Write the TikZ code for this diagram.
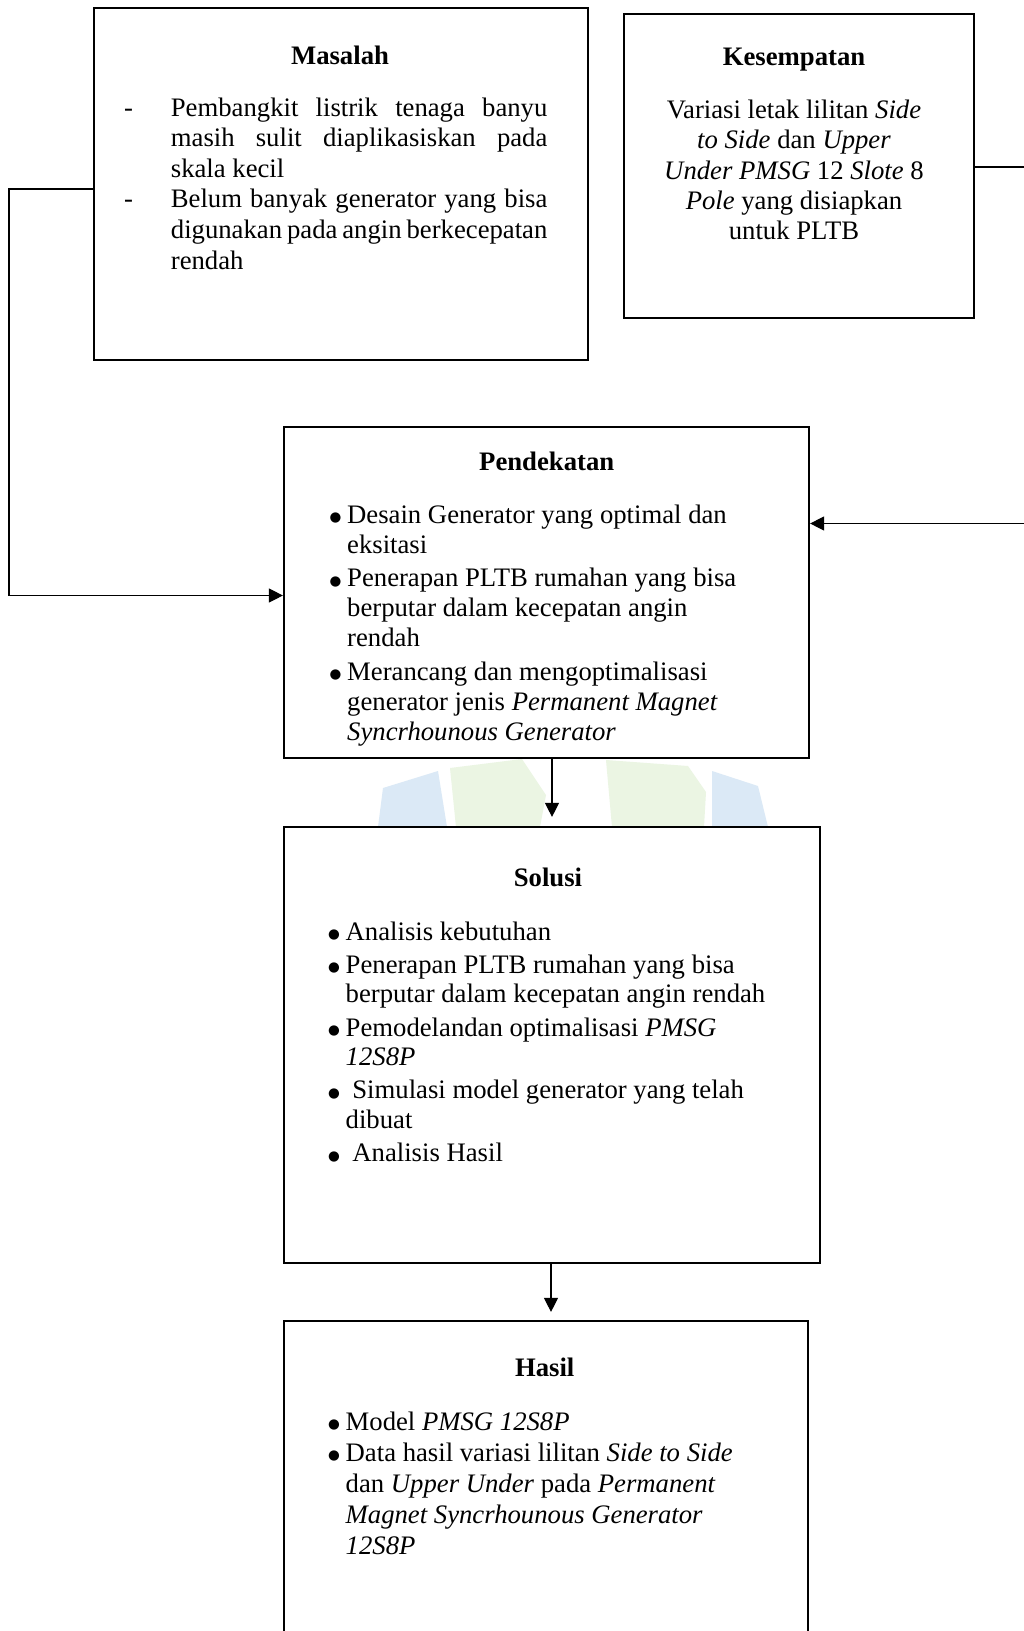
\documentclass[tikz,border=0pt]{standalone}
\usepackage{fontspec}
\setmainfont{Liberation Serif}
\newfontfamily\symfont{DejaVu Sans}
\usetikzlibrary{arrows.meta}
\definecolor{wmblue}{RGB}{219,233,246}
\definecolor{wmgreen}{RGB}{235,245,227}
\newcommand{\titlefont}{\fontsize{26.7pt}{30.5pt}\selectfont\bfseries}
\newcommand{\bul}{\makebox[18.5pt][l]{\hspace*{1pt}\raisebox{1.5pt}{\symfont\fontsize{13.5pt}{13.5pt}\selectfont ●}}}
\newcommand{\ind}{\hspace*{18.5pt}}
\newcommand{\dsh}{\makebox[47.7pt][l]{\hspace*{1pt}-}}
\newcommand{\dind}{\hspace*{47.7pt}}
\newcommand{\jline}[1]{\makebox[376.5pt][s]{#1}}
\begin{document}
\begin{tikzpicture}[x=1pt,y=-1pt,
  box/.style={draw=black, line width=2.2pt, fill=white, inner sep=0pt, rectangle},
  title/.style={anchor=base, inner sep=0pt, font=\titlefont},
  body/.style={anchor=base west, inner sep=0pt},
  conn/.style={draw=black, line width=1.2pt},
  arr/.style={-{Triangle[length=14pt,width=14pt]}}]

\useasboundingbox (0,0) rectangle (1024,1631);
\clip (0,0) rectangle (1024,1631);
\fill[white] (0,0) rectangle (1024,1631);

% faint watermark
\fill[wmblue] (383,788) -- (438,771) -- (447,827) -- (378,827) -- cycle;
\fill[wmgreen] (450,768) -- (522,759) -- (546,795) -- (540,827) -- (456,827) -- cycle;
\fill[wmgreen] (606,760) -- (688,766) -- (706,792) -- (704,827) -- (612,827) -- cycle;
\fill[wmblue] (712,771) -- (758,786) -- (768,827) -- (712,827) -- cycle;

% boxes
\node[box, minimum width=494pt, minimum height=352pt] (masalah) at (341,184) {};
\node[box, minimum width=350pt, minimum height=304pt] (kesempatan) at (799,166) {};
\node[box, minimum width=525pt, minimum height=331pt] (pendekatan) at (546.5,592.5) {};
\node[box, minimum width=536pt, minimum height=436pt] (solusi) at (552,1045) {};
\node[box, minimum width=524pt, minimum height=359pt] (hasil) at (546,1500.5) {};

% titles
\node[title] (tmasalah) at (340,64) {Masalah};
\node[title] (tkesempatan) at (794,65) {Kesempatan};
\node[title] (tpendekatan) at (546.7,470) {Pendekatan};
\node[title] (tsolusi) at (548,886.7) {Solusi};
\node[title] (thasil) at (544.7,1376.7) {Hasil};

% texts
\node[body] (xmasalah) at (123,116) {\parbox[t]{440pt}{\fontsize{26.7pt}{30.6pt}\selectfont
\dsh\jline{Pembangkit listrik tenaga banyu}\\
\dind\jline{masih sulit diaplikasiskan pada}\\
\dind skala kecil\\
\dsh\jline{Belum banyak generator yang bisa}\\
\dind\jline{digunakan pada angin berkecepatan}\\
\dind rendah}};

\node[anchor=base, inner sep=0pt] (xkesempatan) at (794,118.3) {\parbox[t]{340pt}{\centering\fontsize{26.7pt}{30.4pt}\selectfont
Variasi letak lilitan \textit{Side}\\
\textit{to Side} dan \textit{Upper}\\
\textit{Under PMSG} 12 \textit{Slote} 8\\
\textit{Pole} yang disiapkan\\
untuk PLTB}};

\node[body] (xpendekatan) at (328.5,523.3) {\parbox[t]{470pt}{\fontsize{26.7pt}{30pt}\selectfont
\bul Desain Generator yang optimal dan\\
\ind eksitasi\\[3.4pt]
\bul Penerapan PLTB rumahan yang bisa\\
\ind berputar dalam kecepatan angin\\
\ind rendah\\[3.4pt]
\bul Merancang dan mengoptimalisasi\\
\ind generator jenis \textit{Permanent Magnet}\\
\ind \textit{Syncrhounous Generator}}};

\node[body] (xsolusi) at (327,940) {\parbox[t]{480pt}{\fontsize{26.7pt}{29.5pt}\selectfont
\bul Analisis kebutuhan\\[3.8pt]
\bul Penerapan PLTB rumahan yang bisa\\
\ind berputar dalam kecepatan angin rendah\\[3.8pt]
\bul Pemodelandan optimalisasi \textit{PMSG}\\
\ind \textit{12S8P}\\[3.8pt]
\bul\ Simulasi model generator yang telah\\
\ind dibuat\\[3.8pt]
\bul\ Analisis Hasil}};

\node[body] (xhasil) at (327,1430) {\parbox[t]{470pt}{\fontsize{26.7pt}{31pt}\selectfont
\bul Model \textit{PMSG 12S8P}\\
\bul Data hasil variasi lilitan \textit{Side to Side}\\
\ind dan \textit{Upper Under} pada \textit{Permanent}\\
\ind \textit{Magnet Syncrhounous Generator}\\
\ind \textit{12S8P}}};

% connectors
\draw[conn,arr] ([yshift=-5pt]masalah.west) -- ++(-84,0) |- ([yshift=-3pt]pendekatan.west);
\draw[conn] ([yshift=-1pt]kesempatan.east) -- ++(60,0);
\coordinate (rin) at (1034,523.5);
\draw[conn,arr] (rin) -- (rin -| pendekatan.east);
\draw[conn,arr,shorten >=9pt] ([xshift=5.5pt]pendekatan.south) -- ([xshift=5.5pt]pendekatan.south |- solusi.north);
\draw[conn,arr,shorten >=8pt] ([xshift=-1pt]solusi.south) -- ([xshift=-1pt]solusi.south |- hasil.north);
\end{tikzpicture}
\end{document}
